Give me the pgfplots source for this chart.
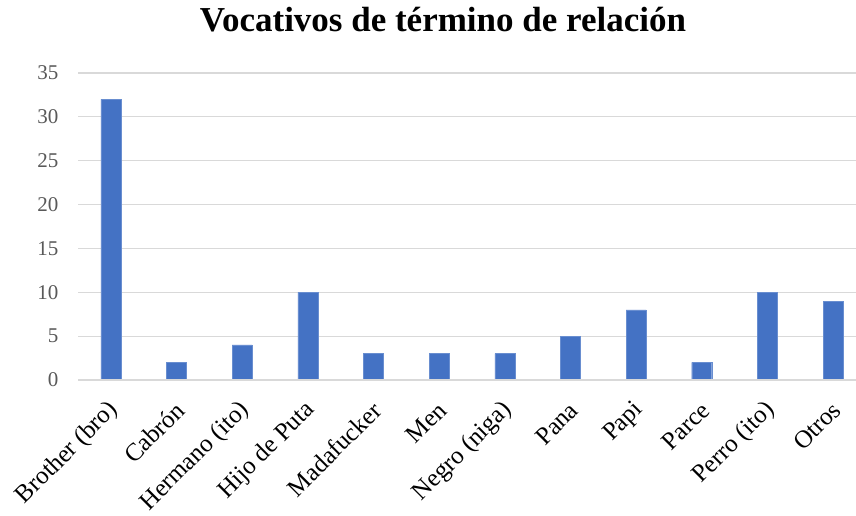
\documentclass[border=0pt]{standalone}
\usepackage{pgfplots}
\pgfplotsset{compat=1.18}
\usepackage{fontspec}
\setmainfont{Liberation Serif}
\definecolor{barblue}{HTML}{4472C4}
\definecolor{gridgray}{HTML}{D9D9D9}
\definecolor{tickgray}{HTML}{595959}
\begin{document}
\begin{tikzpicture}[x=1pt,y=1pt]
\useasboundingbox (0,0) rectangle (856,515);
\begin{axis}[
  at={(78pt,135pt)}, anchor=south west,
  scale only axis, width=778pt, height=307pt,
  xmin=-0.5, xmax=11.35, ymin=0, ymax=35,
  ytick={0,5,...,35},
  xtick={0,...,11},
  xticklabels={Brother (bro),Cabrón,Hermano (ito),Hijo de Puta,Madafucker,Men,Negro (niga),Pana,Papi,Parce,Perro (ito),Otros},
  axis line style={draw=none},
  axis x line*=bottom,
  major tick length=0pt,
  ymajorgrids, grid style={gridgray, line width=1.2pt},
  yticklabel style={font=\fontsize{21}{22}\selectfont, text=tickgray, xshift=-16pt},
  /pgf/number format/assume math mode=true,
  xticklabel style={font=\fontsize{25}{27}\selectfont, xshift=6pt, yshift=-24pt, rotate=45, anchor=east},
  clip=false,
]
\addplot[ybar, bar width=20pt, fill=barblue, draw=barblue!80!white] coordinates {
(0,32) (1,2) (2,4) (3,10) (4,3) (5,3) (6,3) (7,5) (8,8) (9,2) (10,10) (11,9)};
\draw[gridgray, line width=1.2pt] (axis cs:-0.5,0) -- (axis cs:11.35,0);
\end{axis}
\node[anchor=base, font=\fontsize{35}{38}\selectfont\bfseries] at (443,483) {Vocativos de término de relación};
\end{tikzpicture}
\end{document}
